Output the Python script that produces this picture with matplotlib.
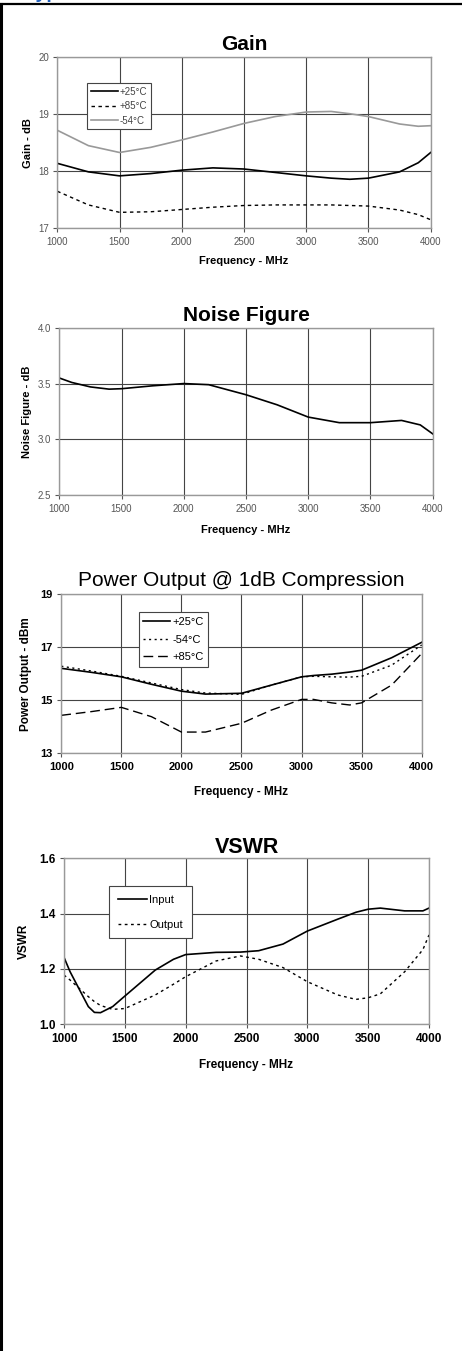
import matplotlib.pyplot as plt
from matplotlib.lines import Line2D

plt.rcParams['font.family'] = ['Liberation Sans', 'DejaVu Sans']

# ---- data ----
freq_gain = [1000, 1250, 1500, 1750, 2000, 2250, 2500, 2750, 3000, 3200, 3350, 3500, 3750, 3900, 4000]
gain_p25 = [18.14, 17.99, 17.92, 17.96, 18.02, 18.06, 18.04, 17.98, 17.92, 17.88, 17.86, 17.88, 17.99, 18.15, 18.33]
gain_p85 = [17.65, 17.41, 17.28, 17.29, 17.33, 17.37, 17.40, 17.41, 17.41, 17.41, 17.40, 17.39, 17.32, 17.24, 17.15]
gain_m54 = [18.72, 18.45, 18.33, 18.42, 18.55, 18.69, 18.84, 18.96, 19.04, 19.05, 19.01, 18.96, 18.83, 18.79, 18.80]

freq_nf = [1000, 1100, 1250, 1400, 1500, 1750, 2000, 2200, 2500, 2750, 3000, 3250, 3500, 3750, 3900, 4000]
nf = [3.55, 3.51, 3.47, 3.45, 3.454, 3.48, 3.50, 3.49, 3.40, 3.31, 3.20, 3.15, 3.15, 3.17, 3.13, 3.05]

freq_p1 = [1000, 1250, 1500, 1750, 2000, 2200, 2500, 2750, 3000, 3100, 3250, 3400, 3500, 3750, 4000]
p1_p25 = [16.20, 16.05, 15.88, 15.60, 15.34, 15.23, 15.26, 15.57, 15.88, 15.93, 15.98, 16.06, 16.13, 16.60, 17.18]
p1_m54 = [16.28, 16.10, 15.90, 15.65, 15.40, 15.27, 15.22, 15.57, 15.88, 15.90, 15.88, 15.87, 15.90, 16.32, 17.08]
p1_p85 = [14.43, 14.57, 14.73, 14.38, 13.80, 13.80, 14.13, 14.63, 15.03, 15.03, 14.90, 14.82, 14.90, 15.57, 16.76]

freq_vswr = [1000, 1050, 1100, 1200, 1250, 1300, 1400, 1500, 1750, 1900, 2000, 2250, 2450, 2600, 2800,
             3000, 3250, 3400, 3500, 3600, 3800, 3950, 4000]
vswr_in = [1.242, 1.19, 1.148, 1.064, 1.043, 1.042, 1.064, 1.102, 1.196, 1.235, 1.252, 1.26, 1.261, 1.266, 1.29,
           1.337, 1.38, 1.405, 1.416, 1.42, 1.41, 1.41, 1.42]
vswr_out = [1.178, 1.16, 1.14, 1.10, 1.082, 1.068, 1.054, 1.057, 1.106, 1.145, 1.172, 1.229, 1.247, 1.235, 1.205,
            1.154, 1.106, 1.09, 1.096, 1.11, 1.19, 1.27, 1.323]

xticks = [1000, 1500, 2000, 2500, 3000, 3500, 4000]

W, H = 462, 1351
fig = plt.figure(figsize=(W / 100, H / 100), dpi=100)


def make_axes(x0, x1, y0, y1):
    return fig.add_axes([x0 / W, 1 - y1 / H, (x1 - x0) / W, (y1 - y0) / H])


def style(ax, ylim, yticks, tick_size, tick_bold, tick_color):
    ax.set_xlim(1000, 4000)
    ax.set_ylim(*ylim)
    ax.set_xticks(xticks)
    ax.set_yticks(yticks)
    ax.grid(True, color='#444444', linewidth=0.8)
    ax.set_axisbelow(True)
    for s in ax.spines.values():
        s.set_color('#999999')
        s.set_linewidth(1.0)
    ax.tick_params(direction='out', length=3, width=0.8, color='#555555',
                   labelsize=tick_size, labelcolor=tick_color, pad=3)
    for lab in ax.get_xticklabels() + ax.get_yticklabels():
        lab.set_fontweight('bold' if tick_bold else 'normal')


# Gain
ax1 = make_axes(57.3, 430.7, 57.3, 228.3)
ax1.plot(freq_gain, gain_p25, color='black', lw=1.2, label='+25°C')
ax1.plot(freq_gain, gain_p85, color='black', lw=1.0, ls=(0, (2.5, 2.5)), label='+85°C')
ax1.plot(freq_gain, gain_m54, color='#999999', lw=1.2, label='-54°C')
style(ax1, (17, 20), [17, 18, 19, 20], 7, False, '#555555')
ax1.set_title('Gain', fontsize=15, fontweight='bold', pad=5)
ax1.set_xlabel('Frequency - MHz', fontsize=8, fontweight='bold', labelpad=7)
ax1.set_ylabel('Gain - dB', fontsize=8, fontweight='bold', labelpad=4)
leg = ax1.legend(loc='upper left', bbox_to_anchor=(0.08, 0.85), fontsize=7, fancybox=False,
                 framealpha=1, edgecolor='#444444', handlelength=2.8, handletextpad=0.1,
                 borderpad=0.4, labelspacing=0.45, borderaxespad=0)
leg.get_frame().set_linewidth(0.8)
for t in leg.get_texts():
    t.set_color('#444444')

# Noise Figure
ax2 = make_axes(59.3, 432.7, 327.7, 495.3)
ax2.plot(freq_nf, nf, color='black', lw=1.2)
style(ax2, (2.5, 4.0), [2.5, 3.0, 3.5, 4.0], 7, False, '#555555')
ax2.yaxis.set_major_formatter(plt.FormatStrFormatter('%.1f'))
ax2.set_title('Noise Figure', fontsize=15, fontweight='bold', pad=5)
ax2.set_xlabel('Frequency - MHz', fontsize=8, fontweight='bold', labelpad=8)
ax2.set_ylabel('Noise Figure - dB', fontsize=8, fontweight='bold', labelpad=4)

# Power Output
ax3 = make_axes(61.3, 421.7, 594, 753.3)
ax3.plot(freq_p1, p1_p25, color='black', lw=1.2, label='+25°C')
ax3.plot(freq_p1, p1_m54, color='black', lw=1.0, ls=(0, (1.5, 2.5)), label='-54°C')
ax3.plot(freq_p1, p1_p85, color='black', lw=1.0, ls=(0, (7, 3.5)), label='+85°C')
style(ax3, (13, 19), [13, 15, 17, 19], 8, True, 'black')
ax3.set_title('Power Output @ 1dB Compression', fontsize=15, pad=6)
ax3.set_xlabel('Frequency - MHz', fontsize=8.5, fontweight='bold', labelpad=10)
ax3.set_ylabel('Power Output - dBm', fontsize=8.5, fontweight='bold', labelpad=6)
leg = ax3.legend(loc='upper left', bbox_to_anchor=(0.215, 0.885), fontsize=8, fancybox=False,
                 framealpha=1, edgecolor='#444444', handlelength=2.4, handletextpad=0.2,
                 borderpad=0.4, labelspacing=0.7, borderaxespad=0)
leg.get_frame().set_linewidth(0.8)

# VSWR
ax4 = make_axes(64, 429, 858.3, 1024.3)
ax4.plot(freq_vswr, vswr_in, color='black', lw=1.2, label='Input')
ax4.plot(freq_vswr, vswr_out, color='black', lw=1.0, ls=(0, (2, 2.5)), label='Output')
style(ax4, (1.0, 1.6), [1.0, 1.2, 1.4, 1.6], 8.5, True, 'black')
ax4.yaxis.set_major_formatter(plt.FormatStrFormatter('%.1f'))
ax4.set_title('VSWR', fontsize=15.5, fontweight='bold', pad=4)
ax4.set_xlabel('Frequency - MHz', fontsize=8.5, fontweight='bold', labelpad=10)
ax4.set_ylabel('VSWR', fontsize=8.5, fontweight='bold', labelpad=7)
leg = ax4.legend(loc='upper left', bbox_to_anchor=(0.124, 0.832), fontsize=8, fancybox=False,
                 framealpha=1, edgecolor='#444444', handlelength=2.6, handletextpad=0.2,
                 borderpad=0.8, labelspacing=1.3, borderaxespad=0)
leg.get_frame().set_linewidth(0.8)

# page frame and clipped heading (only its descenders show in the reference)
fig.add_artist(Line2D([1 / W, 1 / W], [0, 1 - 4 / H], color='black', lw=2.2))
fig.add_artist(Line2D([0, 1], [1 - 4.2 / H, 1 - 4.2 / H], color='black', lw=1.6))
fig.text(25 / W, 1 + 1.5 / H, 'Typical Performance', color='#1f5fbf', fontsize=14,
         fontweight='bold', va='baseline')

fig.savefig('out.png', dpi=100)
